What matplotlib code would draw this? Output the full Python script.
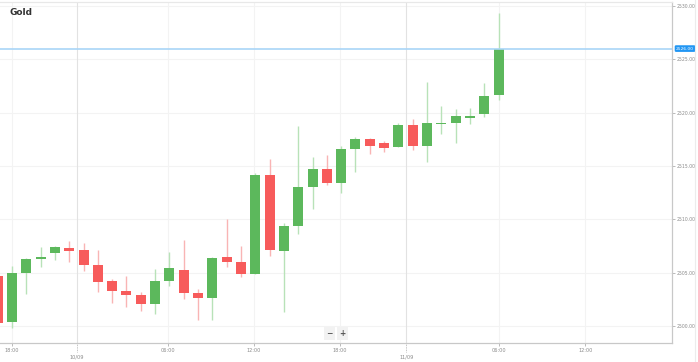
"""
Gold hourly candlestick chart, recreated with matplotlib.
"""

import matplotlib

matplotlib.use("Agg")
import matplotlib.pyplot as plt
from matplotlib.patches import Rectangle
from matplotlib.lines import Line2D

# --- data ---------------------------------------------------------------- #
# hourly candles, index -1 is the partly hidden candle at the left edge
candle_idx = list(range(-1, 35))
opens = [2504.70, 2500.35, 2505.00, 2506.25, 2506.84, 2507.34, 2507.12, 2505.72,
         2504.19, 2503.25, 2502.88, 2502.06, 2504.19, 2505.28, 2503.12, 2502.65,
         2506.44, 2505.97, 2504.90, 2514.15, 2507.00, 2509.37, 2513.00, 2514.71,
         2513.43, 2516.59, 2517.56, 2517.18, 2516.75, 2518.84, 2516.90, 2518.93,
         2519.00, 2519.47, 2519.87, 2521.62]
highs = [2504.90, 2505.60, 2506.40, 2507.43, 2507.50, 2507.97, 2507.78, 2507.12,
         2504.40, 2504.69, 2503.19, 2505.31, 2506.91, 2508.06, 2503.47, 2506.44,
         2510.00, 2507.53, 2514.37, 2515.62, 2509.62, 2518.74, 2515.81, 2516.03,
         2516.87, 2517.74, 2517.59, 2517.34, 2519.06, 2519.40, 2522.87, 2520.65,
         2520.31, 2520.46, 2522.75, 2529.31]
lows = [2500.10, 2499.80, 2503.00, 2505.56, 2506.19, 2506.03, 2505.15, 2503.16,
        2502.13, 2501.81, 2501.38, 2501.10, 2503.75, 2502.50, 2500.53, 2500.53,
        2505.50, 2504.56, 2504.85, 2506.59, 2501.28, 2508.59, 2510.99, 2513.21,
        2512.44, 2514.46, 2516.09, 2516.34, 2516.75, 2516.50, 2515.40, 2517.97,
        2517.12, 2518.93, 2519.62, 2521.18]
closes = [2500.30, 2505.00, 2506.25, 2506.45, 2507.38, 2507.06, 2505.72, 2504.12,
          2503.31, 2502.88, 2502.06, 2504.19, 2505.44, 2503.12, 2502.65, 2506.40,
          2506.00, 2504.90, 2514.15, 2507.09, 2509.37, 2513.00, 2514.71, 2513.43,
          2516.59, 2517.53, 2516.87, 2516.71, 2518.87, 2516.84, 2519.03, 2519.06,
          2519.71, 2519.66, 2521.58, 2526.00]

last_price = 2526.00
y_ticks = [2500, 2505, 2510, 2515, 2520, 2525, 2530]
time_tick_pos = [0, 10.9, 16.9, 22.9, 34, 40.07]
time_tick_labels = ["18:00", "06:00", "12:00", "18:00", "06:00", "12:00"]
date_tick_pos = [4.55, 27.55]
date_tick_labels = ["10/09", "11/09"]

# --- styling --------------------------------------------------------------- #
GREEN = "#5cb85c"
RED = "#f75b5b"
GREEN_WICK = "#b8e2b8"
RED_WICK = "#f9b4b4"
GRID = "#f3f3f3"
LABEL = "#8a8a8a"

W, H = 698, 362
fig = plt.figure(figsize=(W / 100, H / 100), dpi=100)
fig.patch.set_facecolor("white")
ax = fig.add_axes([0, 19 / H, 672 / W, (343 - 2) / H])

# grid
for y in y_ticks:
    ax.axhline(y, color=GRID, lw=0.8, zorder=0)
for x in time_tick_pos:
    ax.axvline(x, color=GRID, lw=0.8, zorder=0)
for x in date_tick_pos:
    ax.axvline(x, color="#e2e2e2", lw=0.8, zorder=0)

# candles
body_w = 0.7
for i, o, h, l, c in zip(candle_idx, opens, highs, lows, closes):
    up = c >= o
    ax.plot([i, i], [l, h], color=GREEN_WICK if up else RED_WICK,
            lw=1.0, zorder=2, solid_capstyle="butt")
    lo, hi = min(o, c), max(o, c)
    ax.add_patch(Rectangle((i - body_w / 2, lo), body_w, max(hi - lo, 0.12),
                           facecolor=GREEN if up else RED, edgecolor="none",
                           zorder=3))

# last-price line and its label
ax.axhline(last_price, color="#a9d5f7", lw=1.2, zorder=4)
ax.text(1.006, last_price, f"{last_price:.2f}", transform=ax.get_yaxis_transform(),
        fontsize=3.2, color="white", va="center", ha="left", clip_on=False,
        bbox=dict(boxstyle="round,pad=0.3,rounding_size=0.3",
                  facecolor="#2196f3", edgecolor="none"), zorder=6)

ax.set_xlim(-12 / 14.31, (672 - 12) / 14.31)
ax.set_ylim(2500 - 17 / 10.67, 2500 + 324 / 10.67)

# axes frame
ax.spines["left"].set_visible(False)
ax.spines["top"].set_color("#e8e8e8")
ax.spines["right"].set_color("#c8c8c8")
ax.spines["bottom"].set_color("#c8c8c8")
for s in ("top", "right", "bottom"):
    ax.spines[s].set_linewidth(0.9)

# y axis on the right
ax.yaxis.tick_right()
ax.set_yticks(y_ticks)
ax.set_yticklabels([f"{v:.2f}" for v in y_ticks])
ax.tick_params(axis="y", length=2, width=0.6, color="#b0b0b0", pad=1.0,
               labelsize=3.3, labelcolor=LABEL)

# x axis: hour ticks plus day markers below them
ax.set_xticks(time_tick_pos)
ax.set_xticklabels(time_tick_labels)
ax.tick_params(axis="x", length=2, width=0.6, color="#b0b0b0", pad=1.5,
               labelsize=3.6, labelcolor=LABEL)
for x, lab in zip(date_tick_pos, date_tick_labels):
    ax.add_line(Line2D([x, x], [0, -0.025], transform=ax.get_xaxis_transform(),
                       color="#b0b0b0", lw=0.6, ls=(0, (1, 1)), clip_on=False))
    ax.text(x, -0.035, lab, transform=ax.get_xaxis_transform(), fontsize=3.6,
            color=LABEL, ha="center", va="top", clip_on=False)

# zoom buttons
for cx, sym in ((329.5, "\u2212"), (342.5, "+")):
    fig.text(cx / W, 1 - 333.5 / H, sym, fontsize=5.5, color="#555555",
             ha="center", va="center", fontweight="bold",
             bbox=dict(boxstyle="square,pad=0.25", facecolor="#f2f2f2",
                       edgecolor="none"))

# title and right edge line
fig.text(10 / W, 1 - 12.5 / H, "Gold", fontsize=6.5, fontweight="bold",
         color="#333333", ha="left", va="center",
         family=["Liberation Sans Narrow", "DejaVu Sans"])
fig.add_artist(Line2D([695 / W, 695 / W], [0, 1], color="#ececec", lw=0.8))

fig.savefig("out.png", dpi=100)
